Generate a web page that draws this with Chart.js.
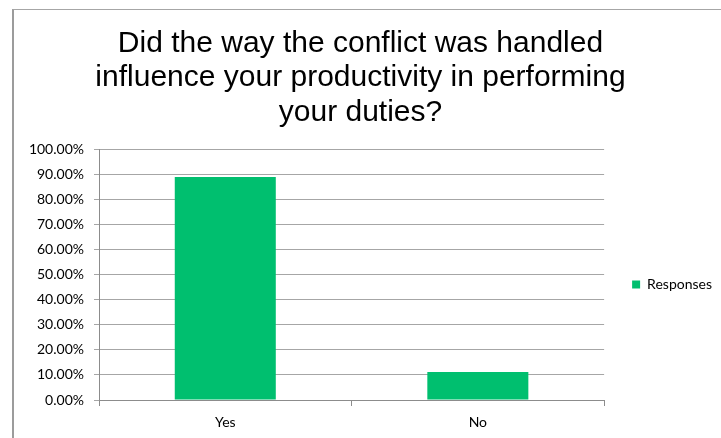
<!DOCTYPE html>
<html>
<head>
<meta charset="utf-8">
<script src="https://cdn.jsdelivr.net/npm/chart.js@4"></script>
<style>
  html, body { margin: 0; padding: 0; background: #fff; overflow: hidden; }
  #frame {
    position: absolute; left: 12px; top: 9px; width: 760px; height: 480px;
    border-left: 2px solid #9c9c9c; border-top: 1px solid #a6a6a6;
  }
  #wrap { position: absolute; left: 0; top: 0; width: 721px; height: 438px; }
</style>
</head>
<body>
<div id="frame"></div>
<div id="wrap"><canvas id="c" width="721" height="438"></canvas></div>
<script>
// Survey question shown as the chart title (one entry per line)
const titleLines = [
  'Did the way the conflict was handled',
  'influence your productivity in performing',
  'your duties?'
];
// Answer categories along the x axis
const categories = ['Yes', 'No'];
// Share of respondents per answer, in percent
const responses = [88.89, 11.11];
const seriesName = 'Responses';
// Value axis labels, bottom to top
const yTickLabels = ['0.00%', '10.00%', '20.00%', '30.00%', '40.00%', '50.00%',
                     '60.00%', '70.00%', '80.00%', '90.00%', '100.00%'];

const labelFont = { family: 'Lato', size: 14 };

// Moves the legend block next to the plot, vertically near the middle
const legendNudge = {
  id: 'legendNudge',
  afterUpdate(chart) {
    const lg = chart.legend;
    if (!lg) return;
    lg.left += 1; lg.right += 1;
    lg.top += 10; lg.bottom += 10;
  }
};

new Chart(document.getElementById('c'), {
  type: 'bar',
  data: {
    labels: categories,
    datasets: [{
      label: seriesName,
      data: responses,
      backgroundColor: '#00bf6f',
      borderWidth: 0,
      barPercentage: 1,
      categoryPercentage: 0.4
    }]
  },
  options: {
    responsive: false,
    animation: false,
    layout: { padding: { left: 0, right: 0, top: 0, bottom: 0 } },
    plugins: {
      tooltip: { enabled: false },
      title: {
        display: true,
        text: titleLines,
        color: '#000',
        font: { family: 'Liberation Sans', size: 30, weight: 'normal', lineHeight: 1.15 },
        padding: { top: 26, bottom: 19.5 }
      },
      legend: {
        position: 'right',
        fullSize: false,
        maxWidth: 117,
        labels: {
          boxWidth: 8,
          boxHeight: 8,
          padding: 27,
          color: '#000',
          font: labelFont
        }
      }
    },
    scales: {
      x: {
        offset: true,
        grid: { display: true, drawOnChartArea: false, drawTicks: true, tickLength: 6, color: '#8c8c8c' },
        border: { display: true, color: '#8c8c8c' },
        ticks: { color: '#000', font: labelFont, padding: 8 },
        afterFit(scale) { scale.height = 38; }
      },
      y: {
        min: 0,
        max: 100,
        grid: { color: '#a6a6a6', tickLength: 5, drawTicks: true },
        border: { display: true, color: '#8c8c8c' },
        ticks: {
          stepSize: 10,
          color: '#000',
          font: labelFont,
          padding: 10,
          callback: (v, i) => yTickLabels[i]
        },
        afterFit(scale) { scale.width = 99; }
      }
    }
  },
  plugins: [legendNudge]
});
</script>
</body>
</html>
